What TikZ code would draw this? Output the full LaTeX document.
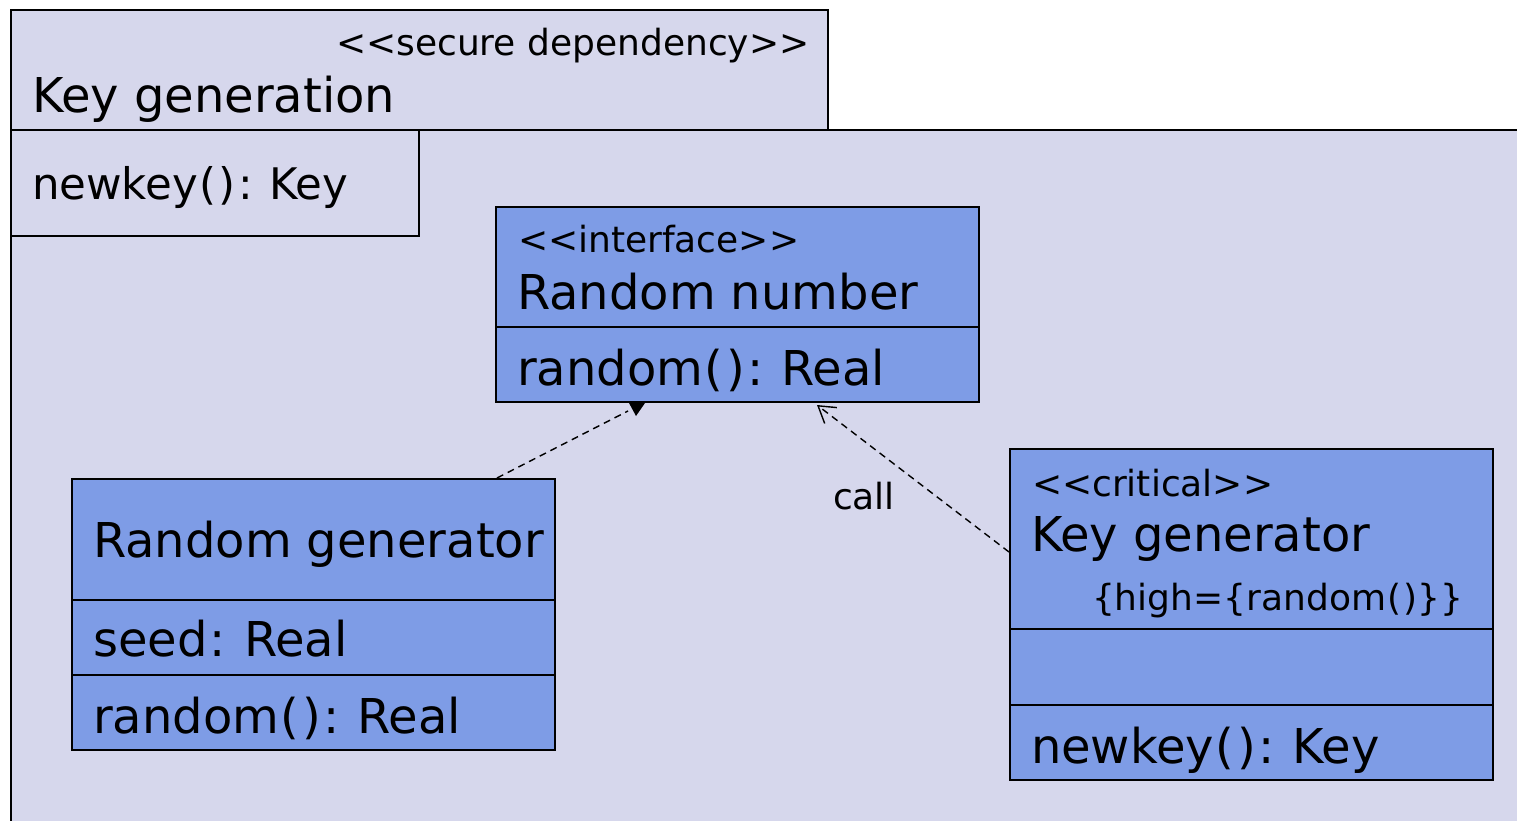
\documentclass[tikz,border=0pt]{standalone}
\usepackage{fontspec}
\setmainfont{DejaVu Sans}
\usetikzlibrary{arrows.meta}
\definecolor{pkgfill}{RGB}{214,215,236}
\definecolor{clsfill}{RGB}{126,156,230}
\newcommand\stl{<{}<}
\newcommand\stg{>{}>}
\newcommand\opar{\kern.03em(\kern.06em)}
\newcommand\ccol{\kern.05em:\kern.06em}
\begin{document}
\frenchspacing
\begin{tikzpicture}[x=1pt,y=-1pt,
  lbl/.style={anchor=base west, inner sep=0pt, outer sep=0pt, text=black},
  big/.style={font=\fontsize{48}{52}\selectfont\frenchspacing},
  mid/.style={font=\fontsize{43.5}{47}\selectfont\frenchspacing},
  small/.style={font=\fontsize{36}{40}\selectfont\frenchspacing},
  pkgbox/.style={draw=black, line width=1.5pt, fill=pkgfill, anchor=north west, inner sep=0pt, outer sep=0pt},
  clsbox/.style={draw=black, line width=1.5pt, fill=clsfill, anchor=north west, inner sep=0pt, outer sep=0pt},
  divider/.style={draw=black, line width=1.5pt},
  dep/.style={draw=black, line width=1.4pt, dash pattern=on 7pt off 5pt}
]
\useasboundingbox (0,0) rectangle (1517,821);
\clip (0,0) rectangle (1517,821);
\fill[white] (0,0) rectangle (1517,821);

% package
\node[pkgbox, minimum width=1530pt, minimum height=720pt] (body) at (11,130) {};
\node[pkgbox, minimum width=817pt, minimum height=120pt] (tab) at (11,10) {};
\node[pkgbox, minimum width=408pt, minimum height=106pt] (comp) at (11,130) {};
\node[lbl, small] (secdep) at (336,56) {\stl secure dependency\stg};
\node[lbl, big] (kgname) at (32,113) {Key generation};
\node[lbl, mid] (kgop) at (32,200) {newkey\opar\ccol{} Key};

% connectors (drawn before boxes)
\coordinate (rgtop) at (497,478);
\coordinate (rnbot) at (628,411);
\draw[dep] (rgtop) -- (rnbot);
\fill[black] (629,403) -- (645,403) -- (636,416) -- cycle;

\coordinate (kgleft) at (1009,552);
\coordinate (rnbot2) at (817,405);
\draw[dep, -{Straight Barb[length=16pt,width=20pt,line width=1.4pt]}] (kgleft) -- (rnbot2);
\node[lbl, small] (call) at (833,509) {call};

% interface Random number
\node[clsbox, minimum width=483pt, minimum height=195pt] (rn) at (496,207) {};
\draw[divider] (496,327) -- (979,327);
\node[lbl, small] at (518,252) {\stl interface\stg};
\node[lbl, big] at (517,309) {Random number};
\node[lbl, big] at (517,385) {random\opar\ccol{} Real};

% Random generator
\node[clsbox, minimum width=483pt, minimum height=271pt] (rg) at (72,479) {};
\draw[divider] (72,600) -- (555,600);
\draw[divider] (72,675) -- (555,675);
\node[lbl, big] at (93,557) {Random generator};
\node[lbl, big] at (93,656) {seed\ccol{} Real};
\node[lbl, big] at (93,733) {random\opar\ccol{} Real};

% Key generator
\node[clsbox, minimum width=483pt, minimum height=331pt] (kg) at (1010,449) {};
\draw[divider] (1010,629) -- (1493,629);
\draw[divider] (1010,705) -- (1493,705);
\node[lbl, small] at (1032,496) {\stl critical\stg};
\node[lbl, big] at (1031,551) {Key generator};
\node[lbl, small] at (1092,610) {\{high=\{random\opar\}\}};
\node[lbl, big] at (1031,763) {newkey\opar\ccol{} Key};
\end{tikzpicture}
\end{document}
